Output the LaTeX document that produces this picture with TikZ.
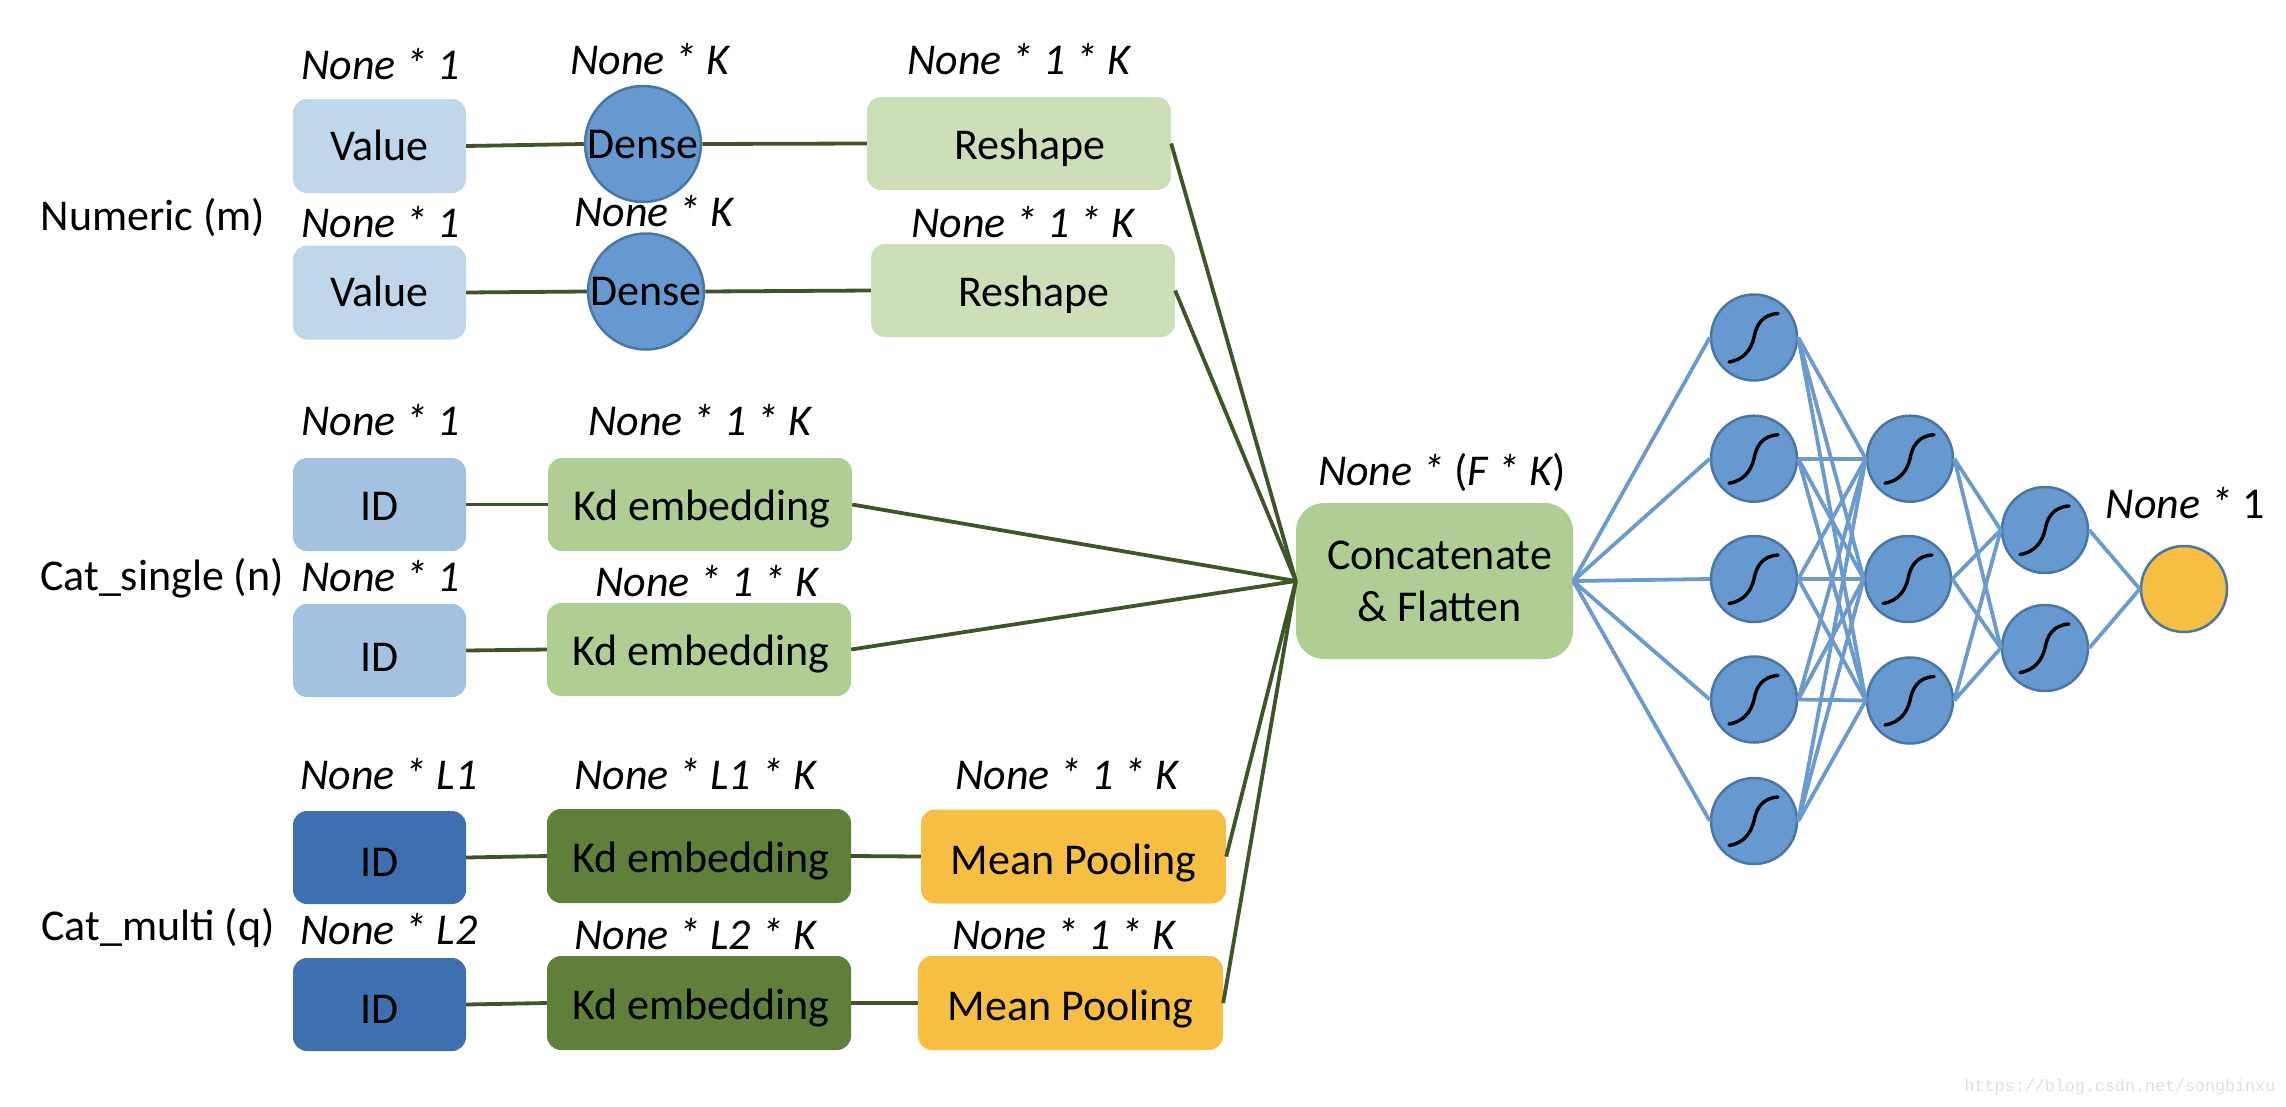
\documentclass[tikz,border=0pt]{standalone}
\usepackage{fontspec}
\setmainfont{Carlito}
\newfontfamily\wmfont{Liberation Mono}
\definecolor{cval}{HTML}{BFD6EB}
\definecolor{cid}{HTML}{A3C2E1}
\definecolor{ciddark}{HTML}{3E70AF}
\definecolor{cres}{HTML}{CCDFB9}
\definecolor{ckd}{HTML}{B0CE93}
\definecolor{ckddark}{HTML}{5F7F3B}
\definecolor{cyel}{HTML}{F6BE42}
\definecolor{cneu}{HTML}{6699CF}
\definecolor{cneuline}{HTML}{4A76A3}
\definecolor{clink}{HTML}{6B9BCE}
\definecolor{cconn}{HTML}{3F5528}
\tikzset{
  x=1pt,y=-1pt,
  box/.style={rounded corners=14pt,inner sep=0pt,font=\fontsize{44}{44}\selectfont,text=black,text height=36pt,text depth=8pt},
  low/.style={text height=40pt},
  lower/.style={text height=43pt},
  lowest/.style={text height=46pt},
  bval/.style={box,fill=cval,minimum width=173pt,minimum height=94pt},
  bid/.style={box,fill=cid,minimum width=173pt,minimum height=93pt},
  biddark/.style={box,fill=ciddark,minimum width=173pt,minimum height=93pt},
  bres/.style={box,fill=cres,minimum width=304pt,minimum height=93pt},
  bkd/.style={box,fill=ckd,minimum width=304pt,minimum height=93pt},
  bkddark/.style={box,fill=ckddark,minimum width=304pt,minimum height=94pt},
  bmp/.style={box,fill=cyel,minimum width=305pt,minimum height=94pt},
  dense/.style={circle,fill=cneu,draw=cneuline,line width=2.5pt,minimum size=116pt,inner sep=0pt,font=\fontsize{44}{44}\selectfont,text height=28pt,text depth=0pt},
  neuron/.style={circle,fill=cneu,draw=cneuline,line width=2.5pt,minimum size=86pt,inner sep=0pt},
  outn/.style={circle,fill=cyel,draw=cneuline,line width=2.5pt,minimum size=86pt,inner sep=0pt},
  lbl/.style={inner sep=0pt,font=\fontsize{44}{44}\selectfont\itshape,text height=36pt,text depth=8pt},
  grp/.style={inner sep=0pt,font=\fontsize{44}{44}\selectfont,text height=36pt,text depth=9pt},
  conn/.style={draw=cconn,line width=3.8pt},
  nnlink/.style={draw=clink,line width=3.8pt},
  sig/.style={draw=black,line width=3.4pt,line cap=round}
}
\begin{document}
\begin{tikzpicture}
\useasboundingbox (0,0) rectangle (2286,1106);
% input boxes
\node[bval] (v1) at (379.5,146) {Value};
\node[bval] (v2) at (379.5,292.5) {Value};
\node[dense] (d1) at (643,144) {\makebox[0pt]{Dense}};
\node[dense] (d2) at (646,291.5) {\makebox[0pt]{Dense}};
\node[bres,low] (r1) at (1019,143.5) {\hspace*{22pt}Reshape};
\node[bres,low] (r2) at (1023,290.5) {\hspace*{22pt}Reshape};
\node[bid,low] (i1) at (379.5,504.5) {ID};
\node[bid,text height=50pt] (i2) at (379.5,650.5) {ID};
\node[bkd,low] (k1) at (700,504.5) {\hspace*{4pt}Kd embedding};
\node[bkd,low] (k2) at (699,649.5) {\hspace*{4pt}Kd embedding};
\node[biddark,lowest] (i3) at (379.5,857.5) {ID};
\node[biddark,lowest] (i4) at (379.5,1004.5) {ID};
\node[bkddark,low] (k3) at (699,856) {\hspace*{4pt}Kd embedding};
\node[bkddark,low] (k4) at (699,1003) {\hspace*{4pt}Kd embedding};
\node[bmp,lower] (m1) at (1073.5,856.5) {Mean Pooling};
\node[bmp,lower] (m2) at (1070.5,1003) {Mean Pooling};
\node[box,fill=ckd,rounded corners=28pt,minimum width=277pt,minimum height=156pt,align=center,text height=,text depth=,font=\fontsize{44}{52}\selectfont] (c) at (1434.5,581) {\hspace*{10pt}Concatenate\\\hspace*{10pt}\& Flatten};
% group labels
\node[grp] (gn) at (153,217) {Numeric (m)};
\node[grp] (gs) at (162,577) {Cat\_single (n)};
\node[grp] (gm) at (158,927) {Cat\_multi (q)};
% shape labels
\node[lbl] (l1) at (380.5,65) {None * 1};
\node[lbl] (l2) at (650,60) {None * K};
\node[lbl] (l3) at (1019,60) {None * 1 * K};
\node[lbl] (l4) at (380.5,223) {None * 1};
\node[lbl] (l5) at (654,212) {None * K};
\node[lbl] (l6) at (1023,223) {None * 1 * K};
\node[lbl] (l7) at (380.5,421) {None * 1};
\node[lbl] (l8) at (700,421) {None * 1 * K};
\node[lbl] (l9) at (380.5,577) {None * 1};
\node[lbl] (l10) at (707,582) {None * 1 * K};
\node[lbl] (l11) at (389,775) {None * L1};
\node[lbl] (l12) at (695,775) {None * L1 * K};
\node[lbl] (l13) at (1067,775) {None * 1 * K};
\node[lbl] (l14) at (389,930) {None * L2};
\node[lbl] (l15) at (695,935) {None * L2 * K};
\node[lbl] (l16) at (1064,935) {None * 1 * K};
\node[lbl] (l17) at (1442,471) {None * {\upshape(}F * K{\upshape)}};
\node[lbl] (l18) at (2185,504) {None *\upshape\ 1};
\node[inner sep=0pt,text=black!12,font=\fontsize{16.7}{17}\wmfont] (wm) at (2120,1087) {https://blog.csdn.net/songbinxu};
% connectors
\draw[conn] (v1.east) -- (d1.west);
\draw[conn] (d1.east) -- (r1.west);
\draw[conn] (v2.east) -- (d2.west);
\draw[conn] (d2.east) -- (r2.west);
\draw[conn] (i1.east) -- (k1.west);
\draw[conn] (i2.east) -- (k2.west);
\draw[conn] (i3.east) -- (k3.west);
\draw[conn] (i4.east) -- (k4.west);
\draw[conn] (k3.east) -- (m1.west);
\draw[conn] (k4.east) -- (m2.west);
\foreach \s in {r1,r2,k1,k2,m1,m2} \draw[conn] (\s.east) -- (c.west);
% network
\node[neuron] (a1) at (1754,337.5) {};
\node[neuron] (a2) at (1754,458.7) {};
\node[neuron] (a3) at (1754,579) {};
\node[neuron] (a4) at (1754,699.5) {};
\node[neuron] (a5) at (1754,821) {};
\node[neuron] (b1) at (1910,458.7) {};
\node[neuron] (b2) at (1908,579) {};
\node[neuron] (b3) at (1910,700.5) {};
\node[neuron] (e1) at (2045,530) {};
\node[neuron] (e2) at (2045,648) {};
\node[outn] (o) at (2184,589) {};
\foreach \n in {a1,a2,a3,a4,a5} {
  \draw[nnlink] (c.east) -- (\n.west);
  \foreach \m in {b1,b2,b3} \draw[nnlink] (\n.east) -- (\m.west);
}
\foreach \n in {b1,b2,b3} \foreach \m in {e1,e2} \draw[nnlink] (\n.east) -- (\m.west);
\foreach \n in {e1,e2} \draw[nnlink] (\n.east) -- (o.west);
\foreach \n in {a1,a2,a3,a4,a5,b1,b2,b3,e1,e2}
  \draw[sig] ([shift={(-25,24.5)}]\n.center) .. controls ([shift={(-10,22)}]\n.center) and ([shift={(-3,12)}]\n.center) .. (\n.center) .. controls ([shift={(2,-12)}]\n.center) and ([shift={(8,-23)}]\n.center) .. ([shift={(24,-24)}]\n.center);
\end{tikzpicture}
\end{document}
